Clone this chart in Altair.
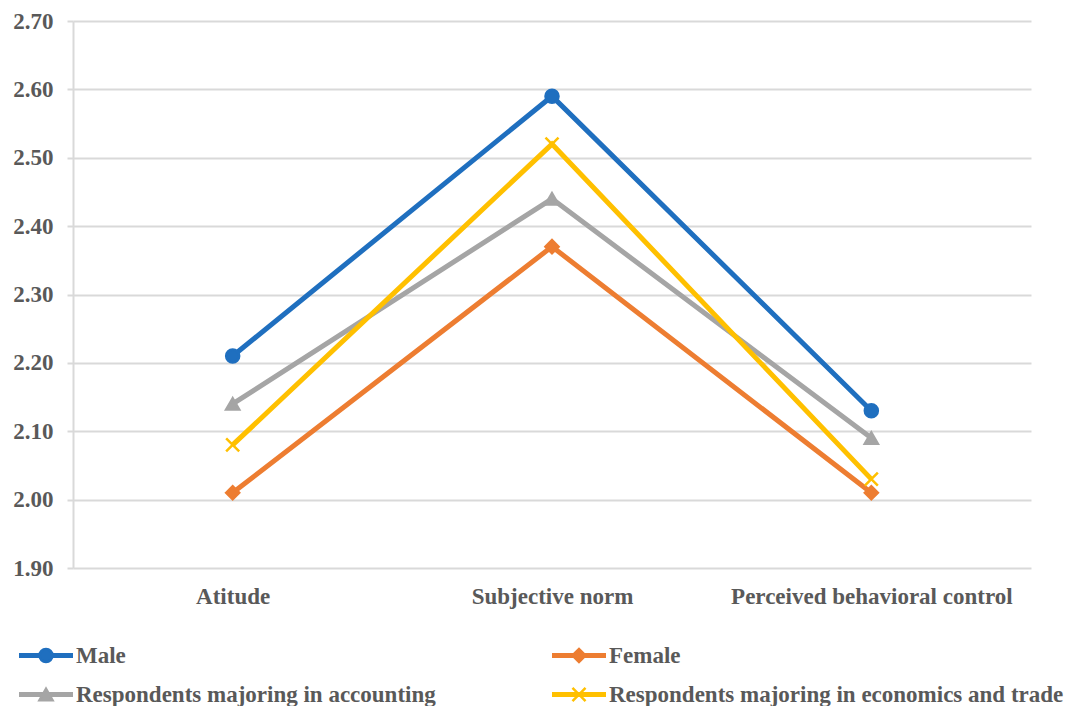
import altair as alt
import pandas as pd

categories = ["Atitude", "Subjective norm", "Perceived behavioral control"]
series = [
    "Male",
    "Female",
    "Respondents majoring in accounting",
    "Respondents majoring in economics and trade",
]
male = [2.21, 2.59, 2.13]
female = [2.01, 2.37, 2.01]
accounting = [2.14, 2.44, 2.09]
economics = [2.08, 2.52, 2.03]
y_ticks = [1.90, 2.00, 2.10, 2.20, 2.30, 2.40, 2.50, 2.60, 2.70]

colors = ["#1f6fbf", "#ed7d31", "#a5a5a5", "#ffc000"]
shapes = ["circle", "diamond", "triangle-up", "M-1,-1L1,1M-1,1L1,-1"]

values = [male, female, accounting, economics]
rows = []
for s, vals in zip(series, values):
    for c, v in zip(categories, vals):
        rows.append({"series": s, "category": c, "value": v})
df = pd.DataFrame(rows)

leg = pd.DataFrame(
    [{"series": s, "col": i % 2, "row": i // 2} for i, s in enumerate(series)]
)

FONT = "Liberation Serif, Times New Roman, DejaVu Serif, serif"
TXT = "#595959"
GRID = "#d9d9d9"
FS = 23

color_scale = alt.Scale(domain=series, range=colors)
shape_scale = alt.Scale(domain=series, range=shapes)

x_enc = alt.X(
    "category:N",
    sort=categories,
    title=None,
    axis=alt.Axis(
        labelAngle=0,
        ticks=False,
        domain=False,
        labelFont=FONT,
        labelFontWeight="bold",
        labelFontSize=FS,
        labelColor=TXT,
        labelPadding=17,
        labelLimit=500,
    ),
)
y_enc = alt.Y(
    "value:Q",
    scale=alt.Scale(domain=[1.9, 2.7], nice=False, zero=False),
    title=None,
    axis=alt.Axis(
        values=y_ticks,
        format=".2f",
        grid=True,
        gridColor=GRID,
        gridWidth=2,
        domainColor=GRID,
        domainWidth=2,
        tickColor=GRID,
        tickWidth=2,
        tickSize=6,
        labelFont=FONT,
        labelFontWeight="bold",
        labelFontSize=FS,
        labelColor=TXT,
        labelPadding=14,
    ),
)

base = alt.Chart(df).encode(x=x_enc, y=y_enc)
lines = base.mark_line(strokeWidth=5).encode(
    color=alt.Color("series:N", scale=color_scale, legend=None),
    detail="series:N",
)
points = base.mark_point(filled=True, size=170, opacity=1, strokeWidth=2.5).encode(
    color=alt.Color("series:N", scale=color_scale, legend=None),
    stroke=alt.Stroke("series:N", scale=color_scale, legend=None),
    shape=alt.Shape("series:N", scale=shape_scale, legend=None),
)
main = alt.layer(lines, points).properties(width=958, height=547)

lx = alt.X("col:Q", scale=alt.Scale(domain=[0, 1], range=[-54, 479]), axis=None)
ly = alt.Y("row:O", axis=None)
lbase = alt.Chart(leg).encode(x=lx, y=ly)
lrule = lbase.mark_rule(strokeWidth=5, x2Offset=54).encode(
    x2="col:Q",
    color=alt.Color("series:N", scale=color_scale, legend=None),
)
lpoint = lbase.mark_point(filled=True, size=170, opacity=1, strokeWidth=2.5, xOffset=27).encode(
    color=alt.Color("series:N", scale=color_scale, legend=None),
    stroke=alt.Stroke("series:N", scale=color_scale, legend=None),
    shape=alt.Shape("series:N", scale=shape_scale, legend=None),
)
ltext = lbase.mark_text(
    align="left", dx=57, font=FONT, fontSize=FS, fontWeight="bold", color=TXT
).encode(text="series:N")
legend = alt.layer(lrule, lpoint, ltext).properties(width=400, height=78)

chart = (
    alt.vconcat(main, legend, spacing=28)
    .properties(padding={"top": 2, "left": 4, "right": 0, "bottom": 0})
    .configure_view(stroke=None)
)

chart.save("out.html", embed_options={"renderer": "svg", "actions": False})
